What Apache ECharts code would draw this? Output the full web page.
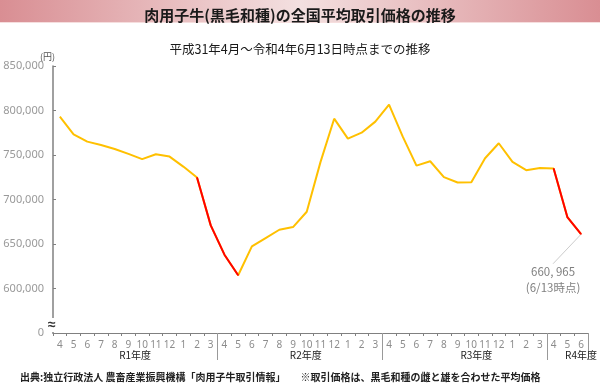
<!DOCTYPE html>
<html>
<head>
<meta charset="utf-8">
<script src="https://cdn.jsdelivr.net/npm/echarts@6/dist/echarts.min.js"></script>
<style>
html,body{margin:0;padding:0;background:#fff;}
#chart{width:600px;height:385px;}
</style>
</head>
<body>
<div id="chart"></div>
<script>
// months (Apr 2019 – Jun 2022)
const months = ['4','5','6','7','8','9','10','11','12','1','2','3',
                '4','5','6','7','8','9','10','11','12','1','2','3',
                '4','5','6','7','8','9','10','11','12','1','2','3',
                '4','5','6'];
const fiscalYears = ['R1年度','R2年度','R3年度','R4年度'];
// average price (yen)
const prices = [793000,773300,765000,761300,756800,751200,745300,750900,748200,737000,724700,670900,
                638000,614900,647300,656700,666000,669000,686200,742000,790800,768400,775100,787500,
                806500,770600,738100,743000,725100,719100,719500,746400,763200,742300,732900,735500,
                734800,680300,660965];
// highlighted (falling) periods
const redRanges = [[10,13],[36,38]];
const yTicks = [550000,600000,650000,700000,750000,800000,850000];

const redData = prices.map((v,i)=> redRanges.some(r=>i>=r[0]&&i<=r[1]) ? v : null);
const lastIdx = prices.length-1;
redData[lastIdx] = {
  value: prices[lastIdx],
  label: {
    show: true,
    position: 'bottom',
    formatter: '660, 965\n(6/13時点)',
    color: '#808080',
    fontSize: 11.5,
    lineHeight: 16,
    fontFamily: 'Noto Sans CJK JP'
  },
  labelLine: {show: true, lineStyle: {color: '#cccccc', width: 1}}
};

const chart = echarts.init(document.getElementById('chart'));
const fyIdx = {6:0, 18:1, 30:2, 38:3};
chart.setOption({
  animation: false,
  backgroundColor: '#ffffff',
  title: [
    {text: '肉用子牛(黒毛和種)の全国平均取引価格の推移', left: 'center', top: 3,
     textStyle: {fontSize: 15, fontWeight: 'bold', color: '#1a1a1a', fontFamily: 'Noto Sans CJK JP'}},
    {text: '平成31年4月～令和4年6月13日時点までの推移', left: 'center', top: 38,
     textStyle: {fontSize: 12.5, fontWeight: 'normal', color: '#1a1a1a', fontFamily: 'Noto Sans CJK JP'}},
    {text: '出典:独立行政法人 農畜産業振興機構「肉用子牛取引情報」　　※取引価格は、黒毛和種の雌と雄を合わせた平均価格',
     left: 15, top: 367,
     textStyle: {fontSize: 10, fontWeight: 'bold', color: '#222', fontFamily: 'Noto Sans CJK JP'}}
  ],
  graphic: [
    {type: 'rect', z: -10, shape: {x: 0, y: 0, width: 600, height: 23},
     style: {fill: new echarts.graphic.LinearGradient(0,0,1,0,[
       {offset:0,color:'#d98e93'},{offset:0.5,color:'#f3e0e0'},{offset:1,color:'#d98e93'}])}},
    {type: 'rect', z: -9, shape: {x: 0, y: 22, width: 600, height: 1}, style: {fill: '#f6dede'}},
    {type: 'text', left: 48, top: 318, z: 100,
     style: {text: '≈', fontSize: 14, fontWeight: 'bold', fill: '#333', backgroundColor: '#fff'}}
  ],
  grid: {left: 53, right: 11, top: 66, bottom: 52, containLabel: false},
  xAxis: [
    {type: 'category', data: months, boundaryGap: true,
     axisLine: {lineStyle: {color: '#808080', width: 1.2}},
     axisTick: {show: true, length: 3, lineStyle: {color: '#808080'}},
     axisLabel: {color: '#8c8c8c', fontSize: 10, margin: 7, interval: 0, fontFamily: 'Noto Sans'}},
    {type: 'category', data: months, boundaryGap: true, position: 'bottom',
     axisLine: {show: false},
     axisTick: {show: true, length: 27, interval: (i)=> i===12||i===24||i===36,
                lineStyle: {color: '#999999', width: 1}},
     axisLabel: {interval: 0, margin: 17, color: '#222', fontSize: 10,
       fontFamily: 'Noto Sans CJK JP',
       formatter: (v, i) => {
         if (!(i in fyIdx)) return '';
         const k = fyIdx[i];
         return '{f' + k + '|' + fiscalYears[k] + '}';
       },
       rich: {
         f0: {padding: [0, 14, 0, 0], fontSize: 10, color: '#222'},
         f1: {padding: [0, 2, 0, 0], fontSize: 10, color: '#222'},
         f2: {padding: [0, 0, 0, 10], fontSize: 10, color: '#222'},
         f3: {padding: [0, 0, 0, 0], fontSize: 10, color: '#222'}
       }}}
  ],
  yAxis: {
    type: 'value', min: yTicks[0], max: yTicks[yTicks.length-1], interval: 50000,
    name: '(円)', nameLocation: 'end', nameGap: 4,
    nameTextStyle: {color: '#555', fontSize: 9, align: 'right', padding: [0, -2, 0, 0], fontFamily: 'Noto Sans CJK JP'},
    axisLine: {show: true, lineStyle: {color: '#808080', width: 1.5}},
    axisTick: {show: true, inside: true, length: 3, lineStyle: {color: '#808080'}},
    splitLine: {show: false},
    axisLabel: {color: '#999999', fontSize: 11, margin: 9, fontFamily: 'Noto Sans',
      formatter: v => v === yTicks[0] ? '0' : v.toLocaleString('en-US')}
  },
  series: [
    {type: 'line', data: prices, symbol: 'none', smooth: false,
     lineStyle: {color: '#ffc000', width: 2}, z: 2},
    {type: 'line', data: redData, symbol: 'circle', symbolSize: 1, connectNulls: false,
     itemStyle: {color: '#ff0000'},
     lineStyle: {color: '#ff0000', width: 2}, z: 3,
     labelLayout: function (p) {
       if (p.dataIndex !== lastIdx) return {};
       return {dx: -28, dy: 24};
     },
     labelLine: {show: true}}
  ]
});
</script>
</body>
</html>
